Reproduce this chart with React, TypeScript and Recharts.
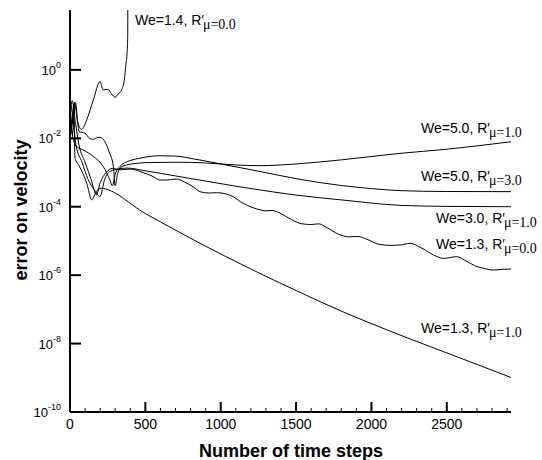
import React from 'react';
import { LineChart, Line, XAxis, YAxis, Customized } from 'recharts';

// ---- axis ticks ----
const xTicks = [0, 100, 200, 300, 400, 500, 600, 700, 800, 900, 1000, 1100, 1200, 1300, 1400, 1500, 1600, 1700, 1800, 1900, 2000, 2100, 2200, 2300, 2400, 2500, 2600, 2700, 2800, 2900];
const xMajorLabels = [0, 500, 1000, 1500, 2000, 2500];
const yTickExponents = [-10, -8, -6, -4, -2, 0];

// ---- series (x = time step, e = log10 of error) ----
const steps14 = [0, 12, 30, 50, 77, 111, 155, 199, 220, 252, 275, 299, 320, 343, 360, 372, 380, 383, 384];
const exp14 = [-0.85, -1.6, -0.95, -1.5, -1.74, -1.46, -0.88, -0.34, -0.58, -0.57, -0.7, -0.8, -0.7, -0.58, -0.3, 0.2, 0.6, 1.0, 3.0];

const steps50a = [0, 15, 35, 60, 100, 130, 155, 180, 199, 232, 260, 288, 299, 315, 332, 376, 450, 509, 700, 900, 1100, 1261, 1500, 1800, 2190, 2500, 2926];
const exp50a = [-1.0, -1.9, -0.95, -1.8, -1.85, -2.0, -2.03, -1.98, -1.97, -2.1, -2.4, -2.83, -3.39, -3.05, -2.87, -2.78, -2.73, -2.71, -2.7, -2.72, -2.78, -2.8, -2.75, -2.63, -2.44, -2.32, -2.1];

const steps50b = [0, 20, 44, 88, 155, 221, 265, 281, 300, 332, 400, 464, 597, 700, 818, 1000, 1261, 1500, 1800, 2000, 2190, 2500, 2926];
const exp50b = [-1.2, -2.0, -2.24, -2.34, -2.53, -2.83, -3.22, -3.39, -3.05, -2.82, -2.65, -2.58, -2.51, -2.52, -2.6, -2.75, -2.97, -3.18, -3.38, -3.47, -3.53, -3.555, -3.56];

const steps30 = [0, 20, 40, 80, 120, 160, 199, 230, 265, 320, 376, 500, 700, 900, 1100, 1261, 1500, 1800, 2190, 2500, 2926];
const exp30 = [-0.9, -1.4, -2.2, -2.7, -3.2, -3.5, -3.7, -3.2, -2.97, -2.9, -2.87, -2.95, -3.1, -3.25, -3.4, -3.51, -3.66, -3.8, -3.96, -3.99, -4.0];

const steps13a = [0, 15, 35, 60, 100, 140, 175, 200, 240, 280, 332, 400, 464, 553, 597, 641, 708, 760, 818, 863, 920, 973, 1030, 1084, 1130, 1172, 1261, 1300, 1340, 1400, 1470, 1540, 1600, 1650, 1700, 1780, 1850, 1910, 1970, 2050, 2130, 2190, 2256, 2330, 2412, 2478, 2566, 2633, 2700, 2743, 2809, 2870, 2926];
const exp13a = [-1.3, -0.9, -1.5, -2.2, -2.7, -3.2, -3.65, -3.3, -3.0, -2.88, -2.92, -2.9, -2.97, -3.12, -3.22, -3.22, -3.19, -3.28, -3.42, -3.56, -3.6, -3.59, -3.62, -3.71, -3.85, -3.95, -4.09, -4.12, -4.11, -4.2, -4.38, -4.5, -4.52, -4.5, -4.6, -4.8, -4.88, -4.87, -4.95, -5.1, -5.13, -5.12, -5.07, -5.2, -5.41, -5.51, -5.46, -5.6, -5.75, -5.8, -5.85, -5.83, -5.82];

const steps13b = [0, 10, 25, 33, 60, 111, 144, 170, 199, 500, 863, 1200, 1500, 1800, 2190, 2588, 2926];
const exp13b = [-1.1, -1.7, -1.0, -2.58, -2.8, -3.31, -3.8, -3.6, -3.46, -4.2, -5.07, -5.82, -6.45, -7.05, -7.75, -8.42, -8.99];

// ---- annotation texts ----
const weLabels = ['We=1.4, R', 'We=5.0, R', 'We=5.0, R', 'We=3.0, R', 'We=1.3, R', 'We=1.3, R'];
const muLabels = ['μ=0.0', 'μ=1.0', 'μ=3.0', 'μ=1.0', 'μ=0.0', 'μ=1.0'];
const labelPos = [
  [135, 25],
  [421, 133],
  [421, 181],
  [436, 223],
  [436, 249],
  [421, 333],
];

const toData = (s: number[], e: number[]) => s.map((x, i) => ({ x, y: Math.pow(10, e[i]) }));

const series = [
  toData(steps14, exp14),
  toData(steps50a, exp50a),
  toData(steps50b, exp50b),
  toData(steps30, exp30),
  toData(steps13a, exp13a),
  toData(steps13b, exp13b),
];

const SANS = "'Liberation Sans', Arial, sans-serif";
const SERIF = "'Liberation Serif', 'Times New Roman', serif";

const XTick = (props: any) => {
  const { x, y, payload } = props;
  const v = payload.value;
  const major = xMajorLabels.indexOf(v) >= 0;
  return (
    <g>
      <line x1={x} x2={x} y1={y} y2={y - (major ? 10 : 4)} stroke="#000" strokeWidth={major ? 2 : 1} />
      {major && (
        <text x={x} y={y + 17} textAnchor="middle" fontFamily={SANS} fontSize={14} fill="#000">
          {v}
        </text>
      )}
    </g>
  );
};

const YTick = (props: any) => {
  const { x, y, payload } = props;
  const exp = Math.round(Math.log10(payload.value));
  return (
    <g>
      <line x1={x} x2={x + 11} y1={y} y2={y} stroke="#000" strokeWidth={2} />
      <text x={x - 9} y={y + 5} textAnchor="end" fontFamily={SANS} fontSize={13} fill="#000">
        <tspan>10</tspan>
        <tspan dy={-7} fontSize={9}>{exp}</tspan>
      </text>
    </g>
  );
};

const Annotations = () => (
  <g>
    {weLabels.map((t, i) => (
      <text key={i} x={labelPos[i][0]} y={labelPos[i][1]} fontFamily={SANS} fontSize={14} fill="#000">
        {t + '\u2032'}
        <tspan fontFamily={SERIF} fontSize={14} dx={-1} dy={4}>{muLabels[i]}</tspan>
      </text>
    ))}
    <text x={291} y={457} textAnchor="middle" fontFamily={SANS} fontWeight="bold" fontSize={18} fill="#000">
      Number of time steps
    </text>
    <text x={27} y={210} textAnchor="middle" fontFamily={SANS} fontWeight="bold" fontSize={18} fill="#000" transform="rotate(-90 27 210)">
      error on velocity
    </text>
  </g>
);

export default function App() {
  return (
    <div style={{ position: 'absolute', left: 0, top: 0, width: 542, height: 460, background: '#fff' }}>
      <LineChart width={542} height={460} margin={{ top: 10, right: 31, bottom: 18, left: 0 }}>
        <XAxis
          type="number"
          dataKey="x"
          domain={[0, 2926]}
          ticks={xTicks}
          interval={0}
          allowDataOverflow
          height={30}
          axisLine={{ stroke: '#000', strokeWidth: 2 }}
          tickLine={false}
          tickSize={0}
          tickMargin={0}
          tick={<XTick />}
        />
        <YAxis
          type="number"
          scale="log"
          domain={[1e-10, Math.pow(10, 1.75)]}
          ticks={yTickExponents.map((e) => Math.pow(10, e))}
          interval={0}
          allowDataOverflow
          width={70}
          axisLine={{ stroke: '#000', strokeWidth: 2 }}
          tickLine={false}
          tickSize={0}
          tickMargin={0}
          tick={<YTick />}
        />
        {series.map((d, i) => (
          <Line
            key={i}
            data={d}
            dataKey="y"
            type="monotone"
            stroke="#000"
            strokeWidth={1}
            dot={false}
            activeDot={false}
            isAnimationActive={false}
          />
        ))}
        <Customized component={Annotations} />
      </LineChart>
    </div>
  );
}
